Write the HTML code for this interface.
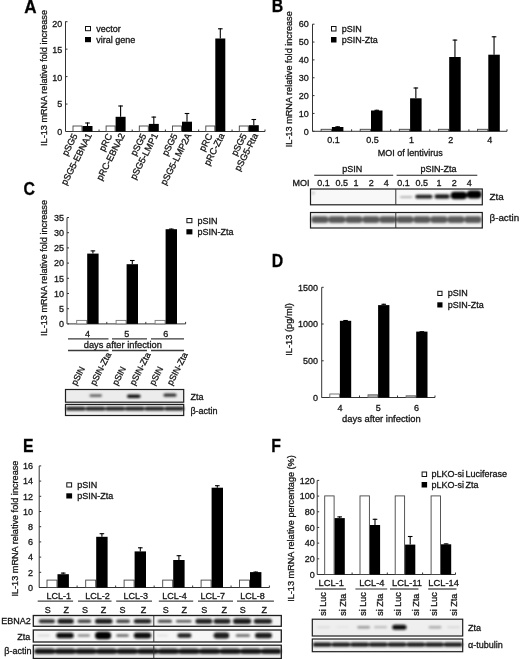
<!DOCTYPE html>
<html><head><meta charset="utf-8"><style>
html,body{margin:0;padding:0;background:#fff;}
body{width:520px;height:659px;overflow:hidden;}
svg{display:block;filter:blur(0.4px);font-family:"Liberation Sans", sans-serif;font-size:9px;fill:#151515;}
text{stroke:#151515;stroke-width:0.3px;}
</style></head><body>
<svg width="520" height="659" viewBox="0 0 520 659">
<defs><filter id="bl10" x="-10%" y="-50%" width="120%" height="200%"><feGaussianBlur stdDeviation="1.0"/></filter><filter id="bl13" x="-10%" y="-50%" width="120%" height="200%"><feGaussianBlur stdDeviation="1.3"/></filter></defs>
<rect width="520" height="659" fill="#fff"/>
<text x="0" y="0" transform="translate(24.30 12.70) scale(0.95 1)" font-size="18" font-weight="bold" fill="#000" stroke="none">A</text>
<line x1="65.50" y1="21.40" x2="65.50" y2="131.50" stroke="#333" stroke-width="1"/>
<line x1="65.50" y1="131.50" x2="67.50" y2="131.50" stroke="#333" stroke-width="1"/>
<text x="62.30" y="134.70" text-anchor="end">0</text>
<line x1="65.50" y1="104.05" x2="67.50" y2="104.05" stroke="#333" stroke-width="1"/>
<text x="62.30" y="107.25" text-anchor="end">5</text>
<line x1="65.50" y1="76.60" x2="67.50" y2="76.60" stroke="#333" stroke-width="1"/>
<text x="62.30" y="80.60" text-anchor="end">10</text>
<line x1="65.50" y1="49.15" x2="67.50" y2="49.15" stroke="#333" stroke-width="1"/>
<text x="62.30" y="53.25" text-anchor="end">15</text>
<line x1="65.50" y1="21.70" x2="67.50" y2="21.70" stroke="#333" stroke-width="1"/>
<text x="62.30" y="26.50" text-anchor="end">20</text>
<text x="47.30" y="78.00" text-anchor="middle" transform="rotate(-90 47.30 78.00)" font-size="9.15">IL-13 mRNA relative fold increase</text>
<line x1="66.00" y1="131.50" x2="265.00" y2="131.50" stroke="#333" stroke-width="1"/>
<line x1="99.05" y1="131.50" x2="99.05" y2="129.50" stroke="#333" stroke-width="1"/>
<line x1="132.20" y1="131.50" x2="132.20" y2="129.50" stroke="#333" stroke-width="1"/>
<line x1="165.40" y1="131.50" x2="165.40" y2="129.50" stroke="#333" stroke-width="1"/>
<line x1="198.65" y1="131.50" x2="198.65" y2="129.50" stroke="#333" stroke-width="1"/>
<line x1="232.05" y1="131.50" x2="232.05" y2="129.50" stroke="#333" stroke-width="1"/>
<line x1="265.00" y1="131.50" x2="265.00" y2="129.50" stroke="#333" stroke-width="1"/>
<rect x="73.00" y="126.00" width="9.00" height="5.50" fill="#fff" stroke="#444" stroke-width="0.9"/>
<rect x="82.50" y="126.00" width="10.00" height="5.50" fill="#000"/>
<line x1="87.50" y1="122.50" x2="87.50" y2="126.00" stroke="#000" stroke-width="1.1"/>
<line x1="85.20" y1="123.00" x2="89.80" y2="123.00" stroke="#000" stroke-width="1.1"/>
<rect x="106.10" y="126.00" width="9.00" height="5.50" fill="#fff" stroke="#444" stroke-width="0.9"/>
<rect x="115.60" y="116.80" width="10.00" height="14.70" fill="#000"/>
<line x1="120.60" y1="105.50" x2="120.60" y2="116.80" stroke="#000" stroke-width="1.1"/>
<line x1="118.30" y1="106.00" x2="122.90" y2="106.00" stroke="#000" stroke-width="1.1"/>
<rect x="139.30" y="126.00" width="9.00" height="5.50" fill="#fff" stroke="#444" stroke-width="0.9"/>
<rect x="148.80" y="123.90" width="10.00" height="7.60" fill="#000"/>
<line x1="153.80" y1="116.60" x2="153.80" y2="123.90" stroke="#000" stroke-width="1.1"/>
<line x1="151.50" y1="117.10" x2="156.10" y2="117.10" stroke="#000" stroke-width="1.1"/>
<rect x="172.50" y="126.00" width="9.00" height="5.50" fill="#fff" stroke="#444" stroke-width="0.9"/>
<rect x="182.00" y="121.70" width="10.00" height="9.80" fill="#000"/>
<line x1="187.00" y1="113.00" x2="187.00" y2="121.70" stroke="#000" stroke-width="1.1"/>
<line x1="184.70" y1="113.50" x2="189.30" y2="113.50" stroke="#000" stroke-width="1.1"/>
<rect x="205.80" y="126.00" width="9.00" height="5.50" fill="#fff" stroke="#444" stroke-width="0.9"/>
<rect x="215.30" y="38.50" width="10.00" height="93.00" fill="#000"/>
<line x1="220.30" y1="28.30" x2="220.30" y2="38.50" stroke="#000" stroke-width="1.1"/>
<line x1="218.00" y1="28.80" x2="222.60" y2="28.80" stroke="#000" stroke-width="1.1"/>
<rect x="239.30" y="126.00" width="9.00" height="5.50" fill="#fff" stroke="#444" stroke-width="0.9"/>
<rect x="248.80" y="125.20" width="10.00" height="6.30" fill="#000"/>
<line x1="253.80" y1="119.00" x2="253.80" y2="125.20" stroke="#000" stroke-width="1.1"/>
<line x1="251.50" y1="119.50" x2="256.10" y2="119.50" stroke="#000" stroke-width="1.1"/>
<text x="77.90" y="135.60" text-anchor="end" transform="rotate(-63 77.90 135.60)" font-size="9.2">pSG5</text>
<text x="92.10" y="135.30" text-anchor="end" transform="rotate(-63 92.10 135.30)" font-size="9.2">pSG5-EBNA1</text>
<text x="112.50" y="135.60" text-anchor="end" transform="rotate(-63 112.50 135.60)" font-size="9.2">pRC</text>
<text x="125.20" y="135.30" text-anchor="end" transform="rotate(-63 125.20 135.30)" font-size="9.2">pRC-EBNA2</text>
<text x="146.50" y="135.60" text-anchor="end" transform="rotate(-63 146.50 135.60)" font-size="9.2">pSG5</text>
<text x="158.40" y="135.30" text-anchor="end" transform="rotate(-63 158.40 135.30)" font-size="9.2">pSG5-LMP1</text>
<text x="177.90" y="135.60" text-anchor="end" transform="rotate(-63 177.90 135.60)" font-size="9.2">pSG5</text>
<text x="191.60" y="135.30" text-anchor="end" transform="rotate(-63 191.60 135.30)" font-size="9.2">pSG5-LMP2A</text>
<text x="212.70" y="135.60" text-anchor="end" transform="rotate(-63 212.70 135.60)" font-size="9.2">pRC</text>
<text x="224.90" y="135.30" text-anchor="end" transform="rotate(-63 224.90 135.30)" font-size="9.2">pRC-Zta</text>
<text x="247.20" y="135.60" text-anchor="end" transform="rotate(-63 247.20 135.60)" font-size="9.2">pSG5</text>
<text x="258.40" y="135.30" text-anchor="end" transform="rotate(-63 258.40 135.30)" font-size="9.2">pSG5-Rta</text>
<rect x="85.50" y="26.50" width="5.00" height="4.20" fill="#fff" stroke="#111" stroke-width="1"/>
<rect x="85.00" y="37.00" width="6.00" height="5.20" fill="#000"/>
<text x="96.20" y="31.50">vector</text>
<text x="96.20" y="42.50">viral gene</text>
<text x="0" y="0" transform="translate(271.70 12.40) scale(0.88 1)" font-size="18" font-weight="bold" fill="#000" stroke="none">B</text>
<line x1="312.50" y1="24.20" x2="312.50" y2="131.30" stroke="#333" stroke-width="1"/>
<line x1="312.50" y1="131.30" x2="314.50" y2="131.30" stroke="#333" stroke-width="1"/>
<text x="308.80" y="134.50" text-anchor="end">0</text>
<line x1="312.50" y1="113.45" x2="314.50" y2="113.45" stroke="#333" stroke-width="1"/>
<text x="308.80" y="116.65" text-anchor="end">10</text>
<line x1="312.50" y1="95.60" x2="314.50" y2="95.60" stroke="#333" stroke-width="1"/>
<text x="308.80" y="98.80" text-anchor="end">20</text>
<line x1="312.50" y1="77.75" x2="314.50" y2="77.75" stroke="#333" stroke-width="1"/>
<text x="308.80" y="80.95" text-anchor="end">30</text>
<line x1="312.50" y1="59.90" x2="314.50" y2="59.90" stroke="#333" stroke-width="1"/>
<text x="308.80" y="63.10" text-anchor="end">40</text>
<line x1="312.50" y1="42.05" x2="314.50" y2="42.05" stroke="#333" stroke-width="1"/>
<text x="308.80" y="45.25" text-anchor="end">50</text>
<line x1="312.50" y1="24.20" x2="314.50" y2="24.20" stroke="#333" stroke-width="1"/>
<text x="308.80" y="27.40" text-anchor="end">60</text>
<text x="292.50" y="79.20" text-anchor="middle" transform="rotate(-90 292.50 79.20)" font-size="9.15">IL-13 mRNA relative fold increase</text>
<line x1="312.50" y1="131.30" x2="507.00" y2="131.30" stroke="#333" stroke-width="1"/>
<line x1="351.60" y1="131.30" x2="351.60" y2="129.30" stroke="#333" stroke-width="1"/>
<line x1="390.70" y1="131.30" x2="390.70" y2="129.30" stroke="#333" stroke-width="1"/>
<line x1="429.80" y1="131.30" x2="429.80" y2="129.30" stroke="#333" stroke-width="1"/>
<line x1="468.90" y1="131.30" x2="468.90" y2="129.30" stroke="#333" stroke-width="1"/>
<line x1="507.00" y1="131.30" x2="507.00" y2="129.30" stroke="#333" stroke-width="1"/>
<rect x="321.10" y="129.30" width="10.30" height="2.00" fill="#ddd" stroke="#444" stroke-width="0.9"/>
<rect x="331.90" y="127.00" width="11.50" height="4.30" fill="#000"/>
<line x1="337.65" y1="126.30" x2="337.65" y2="127.00" stroke="#000" stroke-width="1.1"/>
<line x1="335.35" y1="126.80" x2="339.95" y2="126.80" stroke="#000" stroke-width="1.1"/>
<rect x="360.20" y="129.30" width="10.30" height="2.00" fill="#ddd" stroke="#444" stroke-width="0.9"/>
<rect x="371.00" y="110.50" width="11.50" height="20.80" fill="#000"/>
<line x1="376.75" y1="109.80" x2="376.75" y2="110.50" stroke="#000" stroke-width="1.1"/>
<line x1="374.45" y1="110.30" x2="379.05" y2="110.30" stroke="#000" stroke-width="1.1"/>
<rect x="399.30" y="129.30" width="10.30" height="2.00" fill="#ddd" stroke="#444" stroke-width="0.9"/>
<rect x="410.10" y="98.30" width="11.50" height="33.00" fill="#000"/>
<line x1="415.85" y1="87.50" x2="415.85" y2="98.30" stroke="#000" stroke-width="1.1"/>
<line x1="413.55" y1="88.00" x2="418.15" y2="88.00" stroke="#000" stroke-width="1.1"/>
<rect x="438.40" y="129.30" width="10.30" height="2.00" fill="#ddd" stroke="#444" stroke-width="0.9"/>
<rect x="449.20" y="57.00" width="11.50" height="74.30" fill="#000"/>
<line x1="454.95" y1="39.60" x2="454.95" y2="57.00" stroke="#000" stroke-width="1.1"/>
<line x1="452.65" y1="40.10" x2="457.25" y2="40.10" stroke="#000" stroke-width="1.1"/>
<rect x="477.50" y="129.30" width="10.30" height="2.00" fill="#ddd" stroke="#444" stroke-width="0.9"/>
<rect x="488.30" y="54.70" width="11.50" height="76.60" fill="#000"/>
<line x1="494.05" y1="36.30" x2="494.05" y2="54.70" stroke="#000" stroke-width="1.1"/>
<line x1="491.75" y1="36.80" x2="496.35" y2="36.80" stroke="#000" stroke-width="1.1"/>
<text x="333.40" y="142.60" text-anchor="middle">0.1</text>
<text x="372.50" y="142.60" text-anchor="middle">0.5</text>
<text x="411.60" y="142.60" text-anchor="middle">1</text>
<text x="450.70" y="142.60" text-anchor="middle">2</text>
<text x="489.80" y="142.60" text-anchor="middle">4</text>
<text x="410.30" y="156.00" text-anchor="middle">MOI of lentivirus</text>
<rect x="331.50" y="26.50" width="4.50" height="4.50" fill="#fff" stroke="#111" stroke-width="1"/>
<rect x="331.00" y="37.00" width="5.50" height="5.50" fill="#000"/>
<text x="341.70" y="31.80">pSIN</text>
<text x="341.70" y="42.80">pSIN-Zta</text>
<text x="0" y="0" transform="translate(23.50 195.00) scale(0.88 1)" font-size="18" font-weight="bold" fill="#000" stroke="none">C</text>
<line x1="67.00" y1="217.70" x2="67.00" y2="323.90" stroke="#333" stroke-width="1"/>
<line x1="67.00" y1="323.90" x2="69.00" y2="323.90" stroke="#333" stroke-width="1"/>
<text x="64.00" y="327.10" text-anchor="end">0</text>
<line x1="67.00" y1="308.70" x2="69.00" y2="308.70" stroke="#333" stroke-width="1"/>
<text x="64.00" y="311.90" text-anchor="end">5</text>
<line x1="67.00" y1="293.50" x2="69.00" y2="293.50" stroke="#333" stroke-width="1"/>
<text x="64.00" y="296.70" text-anchor="end">10</text>
<line x1="67.00" y1="278.30" x2="69.00" y2="278.30" stroke="#333" stroke-width="1"/>
<text x="64.00" y="281.50" text-anchor="end">15</text>
<line x1="67.00" y1="263.10" x2="69.00" y2="263.10" stroke="#333" stroke-width="1"/>
<text x="64.00" y="266.30" text-anchor="end">20</text>
<line x1="67.00" y1="247.90" x2="69.00" y2="247.90" stroke="#333" stroke-width="1"/>
<text x="64.00" y="251.10" text-anchor="end">25</text>
<line x1="67.00" y1="232.70" x2="69.00" y2="232.70" stroke="#333" stroke-width="1"/>
<text x="64.00" y="235.90" text-anchor="end">30</text>
<line x1="67.00" y1="217.50" x2="69.00" y2="217.50" stroke="#333" stroke-width="1"/>
<text x="64.00" y="220.70" text-anchor="end">35</text>
<text x="47.40" y="268.00" text-anchor="middle" transform="rotate(-90 47.40 268.00)" font-size="9.15">IL-13 mRNA relative fold increase</text>
<line x1="67.70" y1="323.90" x2="185.60" y2="323.90" stroke="#333" stroke-width="1"/>
<line x1="106.80" y1="323.90" x2="106.80" y2="321.90" stroke="#333" stroke-width="1"/>
<line x1="145.80" y1="323.90" x2="145.80" y2="321.90" stroke="#333" stroke-width="1"/>
<line x1="185.60" y1="323.90" x2="185.60" y2="321.90" stroke="#333" stroke-width="1"/>
<rect x="76.70" y="320.40" width="10.00" height="3.50" fill="#fff" stroke="#777" stroke-width="0.9"/>
<rect x="87.20" y="253.60" width="11.40" height="70.30" fill="#000"/>
<line x1="92.90" y1="250.40" x2="92.90" y2="253.60" stroke="#000" stroke-width="1.1"/>
<line x1="90.60" y1="250.90" x2="95.20" y2="250.90" stroke="#000" stroke-width="1.1"/>
<rect x="116.10" y="320.40" width="10.00" height="3.50" fill="#fff" stroke="#777" stroke-width="0.9"/>
<rect x="126.60" y="264.20" width="11.40" height="59.70" fill="#000"/>
<line x1="132.30" y1="260.00" x2="132.30" y2="264.20" stroke="#000" stroke-width="1.1"/>
<line x1="130.00" y1="260.50" x2="134.60" y2="260.50" stroke="#000" stroke-width="1.1"/>
<rect x="155.10" y="320.40" width="10.00" height="3.50" fill="#fff" stroke="#777" stroke-width="0.9"/>
<rect x="165.60" y="229.20" width="11.40" height="94.70" fill="#000"/>
<line x1="171.30" y1="228.60" x2="171.30" y2="229.20" stroke="#000" stroke-width="1.1"/>
<line x1="169.00" y1="229.10" x2="173.60" y2="229.10" stroke="#000" stroke-width="1.1"/>
<text x="87.40" y="336.80" text-anchor="middle">4</text>
<text x="126.80" y="336.80" text-anchor="middle">5</text>
<text x="165.80" y="336.80" text-anchor="middle">6</text>
<line x1="68.00" y1="338.80" x2="108.50" y2="338.80" stroke="#3a3a3a" stroke-width="1.3"/>
<line x1="68.00" y1="350.50" x2="108.50" y2="350.50" stroke="#3a3a3a" stroke-width="1.3"/>
<line x1="112.00" y1="338.80" x2="147.00" y2="338.80" stroke="#3a3a3a" stroke-width="1.3"/>
<line x1="112.00" y1="350.50" x2="147.00" y2="350.50" stroke="#3a3a3a" stroke-width="1.3"/>
<line x1="151.00" y1="338.80" x2="184.00" y2="338.80" stroke="#3a3a3a" stroke-width="1.3"/>
<line x1="151.00" y1="350.50" x2="184.00" y2="350.50" stroke="#3a3a3a" stroke-width="1.3"/>
<text x="122.80" y="348.30" text-anchor="middle" font-size="9.3">days after infection</text>
<rect x="186.90" y="218.50" width="5.00" height="4.20" fill="#fff" stroke="#111" stroke-width="1"/>
<rect x="186.40" y="229.20" width="6.00" height="5.20" fill="#000"/>
<text x="197.60" y="223.50">pSIN</text>
<text x="197.60" y="234.70">pSIN-Zta</text>
<text x="76.30" y="386.00" transform="rotate(-63 76.30 386.00)" font-size="8.9">pSIN</text>
<text x="95.30" y="386.00" transform="rotate(-63 95.30 386.00)" font-size="8.9">pSIN-Zta</text>
<text x="117.30" y="386.00" transform="rotate(-63 117.30 386.00)" font-size="8.9">pSIN</text>
<text x="134.80" y="386.00" transform="rotate(-63 134.80 386.00)" font-size="8.9">pSIN-Zta</text>
<text x="154.50" y="386.00" transform="rotate(-63 154.50 386.00)" font-size="8.9">pSIN</text>
<text x="171.90" y="386.00" transform="rotate(-63 171.90 386.00)" font-size="8.9">pSIN-Zta</text>
<rect x="65.50" y="389.50" width="118.50" height="12.50" fill="#ececec"/>
<rect x="65.50" y="404.50" width="118.50" height="11.50" fill="#f0f0f0"/>
<g filter="url(#bl10)">
<rect x="89.50" y="394.30" width="12.50" height="2.60" rx="1.30" fill="#666"/>
<rect x="127.00" y="394.40" width="13.50" height="3.60" rx="1.80" fill="#111"/>
<rect x="163.50" y="393.60" width="13.00" height="3.20" rx="1.60" fill="#333"/>
<rect x="65.80" y="406.80" width="19.90" height="3.80" rx="1.90" fill="#1a1a1a"/>
<rect x="85.50" y="406.80" width="19.90" height="3.80" rx="1.90" fill="#1a1a1a"/>
<rect x="105.20" y="406.80" width="19.90" height="3.80" rx="1.90" fill="#1a1a1a"/>
<rect x="124.90" y="406.80" width="19.90" height="3.80" rx="1.90" fill="#1a1a1a"/>
<rect x="144.60" y="406.80" width="19.90" height="3.80" rx="1.90" fill="#1a1a1a"/>
<rect x="164.30" y="406.80" width="19.90" height="3.80" rx="1.90" fill="#1a1a1a"/>
</g>
<rect x="65.50" y="389.50" width="118.20" height="12.70" fill="none" stroke="#1e1e1e" stroke-width="1.2"/>
<rect x="65.50" y="404.40" width="118.20" height="11.10" fill="none" stroke="#1e1e1e" stroke-width="1.2"/>
<text x="190.40" y="399.60">Zta</text>
<text x="190.40" y="413.60">β-actin</text>
<text x="0" y="0" transform="translate(271.80 267.30) scale(0.88 1)" font-size="18" font-weight="bold" fill="#000" stroke="none">D</text>
<line x1="321.70" y1="287.30" x2="321.70" y2="397.50" stroke="#333" stroke-width="1"/>
<line x1="321.70" y1="397.50" x2="323.70" y2="397.50" stroke="#333" stroke-width="1"/>
<text x="318.00" y="400.70" text-anchor="end">0</text>
<line x1="321.70" y1="360.77" x2="323.70" y2="360.77" stroke="#333" stroke-width="1"/>
<text x="318.00" y="363.97" text-anchor="end">500</text>
<line x1="321.70" y1="324.03" x2="323.70" y2="324.03" stroke="#333" stroke-width="1"/>
<text x="318.00" y="327.23" text-anchor="end">1000</text>
<line x1="321.70" y1="287.30" x2="323.70" y2="287.30" stroke="#333" stroke-width="1"/>
<text x="318.00" y="290.50" text-anchor="end">1500</text>
<text x="291.60" y="329.50" text-anchor="middle" transform="rotate(-90 291.60 329.50)" font-size="9.3">IL-13 (pg/ml)</text>
<line x1="321.70" y1="397.50" x2="435.00" y2="397.50" stroke="#333" stroke-width="1"/>
<line x1="359.50" y1="397.50" x2="359.50" y2="395.50" stroke="#333" stroke-width="1"/>
<line x1="397.50" y1="397.50" x2="397.50" y2="395.50" stroke="#333" stroke-width="1"/>
<line x1="435.00" y1="397.50" x2="435.00" y2="395.50" stroke="#333" stroke-width="1"/>
<rect x="329.80" y="394.00" width="9.60" height="3.50" fill="#fff" stroke="#666" stroke-width="0.9"/>
<rect x="339.90" y="320.80" width="11.30" height="76.70" fill="#000"/>
<line x1="345.55" y1="320.00" x2="345.55" y2="320.80" stroke="#000" stroke-width="1.1"/>
<line x1="343.25" y1="320.50" x2="347.85" y2="320.50" stroke="#000" stroke-width="1.1"/>
<rect x="368.00" y="394.80" width="9.60" height="2.70" fill="#aaa" stroke="#666" stroke-width="0.9"/>
<rect x="378.10" y="305.10" width="11.30" height="92.40" fill="#000"/>
<line x1="383.75" y1="303.80" x2="383.75" y2="305.10" stroke="#000" stroke-width="1.1"/>
<line x1="381.45" y1="304.30" x2="386.05" y2="304.30" stroke="#000" stroke-width="1.1"/>
<rect x="406.10" y="395.80" width="9.60" height="1.70" fill="#aaa" stroke="#666" stroke-width="0.9"/>
<rect x="416.20" y="331.60" width="11.30" height="65.90" fill="#000"/>
<line x1="421.85" y1="331.20" x2="421.85" y2="331.60" stroke="#000" stroke-width="1.1"/>
<line x1="419.55" y1="331.70" x2="424.15" y2="331.70" stroke="#000" stroke-width="1.1"/>
<text x="340.10" y="410.60" text-anchor="middle">4</text>
<text x="378.30" y="410.60" text-anchor="middle">5</text>
<text x="416.40" y="410.60" text-anchor="middle">6</text>
<text x="381.40" y="421.80" text-anchor="middle" font-size="9.37">days after infection</text>
<rect x="437.80" y="291.30" width="4.20" height="4.20" fill="#fff" stroke="#111" stroke-width="1"/>
<rect x="437.30" y="302.30" width="5.20" height="5.20" fill="#000"/>
<text x="447.70" y="296.30">pSIN</text>
<text x="447.70" y="307.80">pSIN-Zta</text>
<text x="0" y="0" transform="translate(22.90 451.90) scale(0.88 1)" font-size="18" font-weight="bold" fill="#000" stroke="none">E</text>
<line x1="39.20" y1="465.90" x2="39.20" y2="587.50" stroke="#333" stroke-width="1"/>
<line x1="39.20" y1="587.50" x2="41.20" y2="587.50" stroke="#333" stroke-width="1"/>
<text x="33.00" y="590.70" text-anchor="end">0</text>
<line x1="39.20" y1="572.30" x2="41.20" y2="572.30" stroke="#333" stroke-width="1"/>
<text x="33.00" y="575.50" text-anchor="end">2</text>
<line x1="39.20" y1="557.10" x2="41.20" y2="557.10" stroke="#333" stroke-width="1"/>
<text x="33.00" y="560.30" text-anchor="end">4</text>
<line x1="39.20" y1="541.90" x2="41.20" y2="541.90" stroke="#333" stroke-width="1"/>
<text x="33.00" y="545.10" text-anchor="end">6</text>
<line x1="39.20" y1="526.70" x2="41.20" y2="526.70" stroke="#333" stroke-width="1"/>
<text x="33.00" y="529.90" text-anchor="end">8</text>
<line x1="39.20" y1="511.50" x2="41.20" y2="511.50" stroke="#333" stroke-width="1"/>
<text x="33.00" y="514.70" text-anchor="end">10</text>
<line x1="39.20" y1="496.30" x2="41.20" y2="496.30" stroke="#333" stroke-width="1"/>
<text x="33.00" y="499.50" text-anchor="end">12</text>
<line x1="39.20" y1="481.10" x2="41.20" y2="481.10" stroke="#333" stroke-width="1"/>
<text x="33.00" y="484.30" text-anchor="end">14</text>
<line x1="39.20" y1="465.90" x2="41.20" y2="465.90" stroke="#333" stroke-width="1"/>
<text x="33.00" y="469.10" text-anchor="end">16</text>
<text x="17.60" y="528.60" text-anchor="middle" transform="rotate(-90 17.60 528.60)" font-size="9.15">IL-13 mRNA relative fold increase</text>
<line x1="39.20" y1="587.50" x2="269.40" y2="587.50" stroke="#333" stroke-width="1"/>
<line x1="77.10" y1="587.50" x2="77.10" y2="585.50" stroke="#333" stroke-width="1"/>
<line x1="115.65" y1="587.50" x2="115.65" y2="585.50" stroke="#333" stroke-width="1"/>
<line x1="154.15" y1="587.50" x2="154.15" y2="585.50" stroke="#333" stroke-width="1"/>
<line x1="192.65" y1="587.50" x2="192.65" y2="585.50" stroke="#333" stroke-width="1"/>
<line x1="231.05" y1="587.50" x2="231.05" y2="585.50" stroke="#333" stroke-width="1"/>
<line x1="269.40" y1="587.50" x2="269.40" y2="585.50" stroke="#333" stroke-width="1"/>
<rect x="47.00" y="580.10" width="10.00" height="7.40" fill="#fff" stroke="#444" stroke-width="0.9"/>
<rect x="57.50" y="574.20" width="11.40" height="13.30" fill="#000"/>
<line x1="63.20" y1="572.60" x2="63.20" y2="574.20" stroke="#000" stroke-width="1.1"/>
<line x1="60.90" y1="573.10" x2="65.50" y2="573.10" stroke="#000" stroke-width="1.1"/>
<rect x="85.70" y="580.10" width="10.00" height="7.40" fill="#fff" stroke="#444" stroke-width="0.9"/>
<rect x="96.20" y="536.80" width="11.40" height="50.70" fill="#000"/>
<line x1="101.90" y1="533.20" x2="101.90" y2="536.80" stroke="#000" stroke-width="1.1"/>
<line x1="99.60" y1="533.70" x2="104.20" y2="533.70" stroke="#000" stroke-width="1.1"/>
<rect x="124.10" y="580.10" width="10.00" height="7.40" fill="#fff" stroke="#444" stroke-width="0.9"/>
<rect x="134.60" y="551.40" width="11.40" height="36.10" fill="#000"/>
<line x1="140.30" y1="547.30" x2="140.30" y2="551.40" stroke="#000" stroke-width="1.1"/>
<line x1="138.00" y1="547.80" x2="142.60" y2="547.80" stroke="#000" stroke-width="1.1"/>
<rect x="162.70" y="580.10" width="10.00" height="7.40" fill="#fff" stroke="#444" stroke-width="0.9"/>
<rect x="173.20" y="560.00" width="11.40" height="27.50" fill="#000"/>
<line x1="178.90" y1="555.20" x2="178.90" y2="560.00" stroke="#000" stroke-width="1.1"/>
<line x1="176.60" y1="555.70" x2="181.20" y2="555.70" stroke="#000" stroke-width="1.1"/>
<rect x="201.10" y="580.10" width="10.00" height="7.40" fill="#fff" stroke="#444" stroke-width="0.9"/>
<rect x="211.60" y="487.70" width="11.40" height="99.80" fill="#000"/>
<line x1="217.30" y1="485.20" x2="217.30" y2="487.70" stroke="#000" stroke-width="1.1"/>
<line x1="215.00" y1="485.70" x2="219.60" y2="485.70" stroke="#000" stroke-width="1.1"/>
<rect x="239.50" y="580.10" width="10.00" height="7.40" fill="#fff" stroke="#444" stroke-width="0.9"/>
<rect x="250.00" y="572.10" width="11.40" height="15.40" fill="#000"/>
<line x1="255.70" y1="571.60" x2="255.70" y2="572.10" stroke="#000" stroke-width="1.1"/>
<line x1="253.40" y1="572.10" x2="258.00" y2="572.10" stroke="#000" stroke-width="1.1"/>
<text x="58.70" y="598.60" text-anchor="middle">LCL-1</text>
<text x="97.40" y="598.60" text-anchor="middle">LCL-2</text>
<text x="135.80" y="598.60" text-anchor="middle">LCL-3</text>
<text x="174.40" y="598.60" text-anchor="middle">LCL-4</text>
<text x="212.80" y="598.60" text-anchor="middle">LCL-7</text>
<text x="252.50" y="598.60" text-anchor="middle">LCL-8</text>
<line x1="37.70" y1="601.20" x2="73.10" y2="601.20" stroke="#444" stroke-width="1.2"/>
<line x1="78.00" y1="601.20" x2="111.50" y2="601.20" stroke="#444" stroke-width="1.2"/>
<line x1="116.20" y1="601.20" x2="152.00" y2="601.20" stroke="#444" stroke-width="1.2"/>
<line x1="158.80" y1="601.20" x2="193.20" y2="601.20" stroke="#444" stroke-width="1.2"/>
<line x1="198.00" y1="601.20" x2="233.00" y2="601.20" stroke="#444" stroke-width="1.2"/>
<line x1="237.00" y1="601.20" x2="273.90" y2="601.20" stroke="#444" stroke-width="1.2"/>
<text x="47.70" y="613.20" text-anchor="middle">S</text>
<text x="66.20" y="613.20" text-anchor="middle">Z</text>
<text x="85.00" y="613.20" text-anchor="middle">S</text>
<text x="103.50" y="613.20" text-anchor="middle">Z</text>
<text x="122.60" y="613.20" text-anchor="middle">S</text>
<text x="143.40" y="613.20" text-anchor="middle">Z</text>
<text x="165.80" y="613.20" text-anchor="middle">S</text>
<text x="184.20" y="613.20" text-anchor="middle">Z</text>
<text x="204.20" y="613.20" text-anchor="middle">S</text>
<text x="224.20" y="613.20" text-anchor="middle">Z</text>
<text x="242.80" y="613.20" text-anchor="middle">S</text>
<text x="264.20" y="613.20" text-anchor="middle">Z</text>
<rect x="33.30" y="615.50" width="248.00" height="10.80" fill="#f4f4f4"/>
<rect x="33.30" y="630.00" width="248.00" height="12.00" fill="#f6f6f6"/>
<rect x="33.30" y="645.20" width="248.00" height="13.30" fill="#f0f0f0"/>
<g filter="url(#bl10)">
<rect x="38.80" y="619.20" width="16.20" height="4.00" rx="2.00" fill="#333"/>
<rect x="57.50" y="618.70" width="16.30" height="5.00" rx="2.50" fill="#1c1c1c"/>
<rect x="77.50" y="619.45" width="13.70" height="3.50" rx="1.75" fill="#444"/>
<rect x="95.00" y="618.70" width="17.50" height="5.00" rx="2.50" fill="#1c1c1c"/>
<rect x="116.20" y="619.45" width="13.80" height="3.50" rx="1.75" fill="#444"/>
<rect x="133.80" y="618.95" width="17.40" height="4.50" rx="2.25" fill="#222"/>
<rect x="157.80" y="619.70" width="14.20" height="3.00" rx="1.50" fill="#444"/>
<rect x="176.00" y="619.90" width="15.50" height="2.60" rx="1.30" fill="#555"/>
<rect x="195.40" y="618.70" width="16.90" height="5.00" rx="2.50" fill="#222"/>
<rect x="213.60" y="618.70" width="16.90" height="5.00" rx="2.50" fill="#222"/>
<rect x="233.00" y="618.45" width="18.20" height="5.50" rx="2.75" fill="#1c1c1c"/>
<rect x="253.80" y="618.70" width="18.20" height="5.00" rx="2.50" fill="#222"/>
<rect x="37.50" y="634.60" width="12.50" height="2.00" rx="1.00" fill="#d8d8d8"/>
<rect x="56.20" y="632.85" width="17.60" height="5.50" rx="2.75" fill="#111"/>
<rect x="77.50" y="634.35" width="12.50" height="2.50" rx="1.25" fill="#888"/>
<rect x="95.00" y="631.85" width="16.20" height="7.50" rx="3.75" fill="#000"/>
<rect x="116.20" y="634.10" width="12.60" height="3.00" rx="1.50" fill="#777"/>
<rect x="133.80" y="632.60" width="17.40" height="6.00" rx="3.00" fill="#111"/>
<rect x="157.00" y="634.60" width="11.00" height="2.00" rx="1.00" fill="#e2e2e2"/>
<rect x="177.30" y="633.35" width="14.20" height="4.50" rx="2.25" fill="#222"/>
<rect x="213.60" y="632.60" width="15.60" height="6.00" rx="3.00" fill="#1a1a1a"/>
<rect x="235.70" y="634.10" width="14.30" height="3.00" rx="1.50" fill="#777"/>
<rect x="255.00" y="632.85" width="17.00" height="5.50" rx="2.75" fill="#1a1a1a"/>
<rect x="34.50" y="649.20" width="246.00" height="4.20" rx="1.00" fill="#202020"/>
<rect x="35.00" y="648.50" width="19.60" height="5.60" rx="2.50" fill="#151515"/>
<rect x="55.60" y="648.50" width="19.60" height="5.60" rx="2.50" fill="#151515"/>
<rect x="76.20" y="648.50" width="19.60" height="5.60" rx="2.50" fill="#151515"/>
<rect x="96.80" y="648.50" width="19.60" height="5.60" rx="2.50" fill="#151515"/>
<rect x="117.40" y="648.50" width="19.60" height="5.60" rx="2.50" fill="#151515"/>
<rect x="138.00" y="648.50" width="19.60" height="5.60" rx="2.50" fill="#151515"/>
<rect x="158.60" y="648.50" width="19.60" height="5.60" rx="2.50" fill="#151515"/>
<rect x="179.20" y="648.50" width="19.60" height="5.60" rx="2.50" fill="#151515"/>
<rect x="199.80" y="648.50" width="19.60" height="5.60" rx="2.50" fill="#151515"/>
<rect x="220.40" y="648.50" width="19.60" height="5.60" rx="2.50" fill="#151515"/>
<rect x="241.00" y="648.50" width="19.60" height="5.60" rx="2.50" fill="#151515"/>
<rect x="261.60" y="648.50" width="19.60" height="5.60" rx="2.50" fill="#151515"/>
</g>
<rect x="33.30" y="615.50" width="248.00" height="10.80" fill="none" stroke="#1e1e1e" stroke-width="1.3"/>
<line x1="153.80" y1="615.50" x2="153.80" y2="626.30" stroke="#333" stroke-width="1"/>
<rect x="33.30" y="630.00" width="248.00" height="12.00" fill="none" stroke="#1e1e1e" stroke-width="1.3"/>
<line x1="153.80" y1="630.00" x2="153.80" y2="642.00" stroke="#333" stroke-width="1"/>
<rect x="33.30" y="645.20" width="248.00" height="13.30" fill="none" stroke="#1e1e1e" stroke-width="1.3"/>
<line x1="153.80" y1="645.20" x2="153.80" y2="658.50" stroke="#333" stroke-width="1"/>
<text x="30.80" y="623.60" text-anchor="end">EBNA2</text>
<rect x="66.80" y="482.80" width="4.80" height="4.20" fill="#fff" stroke="#111" stroke-width="1"/>
<rect x="66.30" y="493.30" width="5.80" height="5.20" fill="#000"/>
<text x="77.30" y="487.80">pSIN</text>
<text x="77.30" y="498.80">pSIN-Zta</text>
<text x="30.30" y="639.60" text-anchor="end">Zta</text>
<text x="31.50" y="653.50" text-anchor="end">β-actin</text>
<text x="0" y="0" transform="translate(271.20 451.90) scale(0.88 1)" font-size="18" font-weight="bold" fill="#000" stroke="none">F</text>
<line x1="317.20" y1="480.40" x2="317.20" y2="574.50" stroke="#333" stroke-width="1"/>
<line x1="317.20" y1="574.50" x2="319.20" y2="574.50" stroke="#333" stroke-width="1"/>
<text x="314.80" y="577.70" text-anchor="end">0</text>
<line x1="317.20" y1="558.82" x2="319.20" y2="558.82" stroke="#333" stroke-width="1"/>
<text x="314.80" y="562.02" text-anchor="end">20</text>
<line x1="317.20" y1="543.13" x2="319.20" y2="543.13" stroke="#333" stroke-width="1"/>
<text x="314.80" y="546.33" text-anchor="end">40</text>
<line x1="317.20" y1="527.45" x2="319.20" y2="527.45" stroke="#333" stroke-width="1"/>
<text x="314.80" y="530.65" text-anchor="end">60</text>
<line x1="317.20" y1="511.77" x2="319.20" y2="511.77" stroke="#333" stroke-width="1"/>
<text x="314.80" y="514.97" text-anchor="end">80</text>
<line x1="317.20" y1="496.08" x2="319.20" y2="496.08" stroke="#333" stroke-width="1"/>
<text x="314.80" y="499.28" text-anchor="end">100</text>
<line x1="317.20" y1="480.40" x2="319.20" y2="480.40" stroke="#333" stroke-width="1"/>
<text x="314.80" y="483.60" text-anchor="end">120</text>
<text x="294.00" y="528.50" text-anchor="middle" transform="rotate(-90 294.00 528.50)" font-size="9.15">IL-13 mRNA relative percentage (%)</text>
<line x1="317.20" y1="574.50" x2="455.50" y2="574.50" stroke="#333" stroke-width="1"/>
<line x1="352.10" y1="574.50" x2="352.10" y2="572.50" stroke="#333" stroke-width="1"/>
<line x1="387.30" y1="574.50" x2="387.30" y2="572.50" stroke="#333" stroke-width="1"/>
<line x1="422.60" y1="574.50" x2="422.60" y2="572.50" stroke="#333" stroke-width="1"/>
<line x1="455.50" y1="574.50" x2="455.50" y2="572.50" stroke="#333" stroke-width="1"/>
<rect x="324.70" y="495.90" width="9.40" height="78.60" fill="#fff" stroke="#444" stroke-width="0.9"/>
<rect x="334.60" y="518.10" width="10.20" height="56.40" fill="#000"/>
<line x1="339.70" y1="516.40" x2="339.70" y2="518.10" stroke="#000" stroke-width="1.1"/>
<line x1="337.40" y1="516.90" x2="342.00" y2="516.90" stroke="#000" stroke-width="1.1"/>
<rect x="360.00" y="495.90" width="9.40" height="78.60" fill="#fff" stroke="#444" stroke-width="0.9"/>
<rect x="369.90" y="525.00" width="10.20" height="49.50" fill="#000"/>
<line x1="375.00" y1="518.80" x2="375.00" y2="525.00" stroke="#000" stroke-width="1.1"/>
<line x1="372.70" y1="519.30" x2="377.30" y2="519.30" stroke="#000" stroke-width="1.1"/>
<rect x="395.20" y="495.90" width="9.40" height="78.60" fill="#fff" stroke="#444" stroke-width="0.9"/>
<rect x="405.10" y="544.60" width="10.20" height="29.90" fill="#000"/>
<line x1="410.20" y1="536.00" x2="410.20" y2="544.60" stroke="#000" stroke-width="1.1"/>
<line x1="407.90" y1="536.50" x2="412.50" y2="536.50" stroke="#000" stroke-width="1.1"/>
<rect x="431.10" y="495.90" width="9.40" height="78.60" fill="#fff" stroke="#444" stroke-width="0.9"/>
<rect x="441.00" y="544.30" width="10.20" height="30.20" fill="#000"/>
<line x1="446.10" y1="543.40" x2="446.10" y2="544.30" stroke="#000" stroke-width="1.1"/>
<line x1="443.80" y1="543.90" x2="448.40" y2="543.90" stroke="#000" stroke-width="1.1"/>
<text x="331.20" y="586.00" text-anchor="middle" font-size="9.3">LCL-1</text>
<text x="371.80" y="586.00" text-anchor="middle" font-size="9.3">LCL-4</text>
<text x="407.00" y="586.00" text-anchor="middle" font-size="9.3">LCL-11</text>
<text x="443.60" y="586.00" text-anchor="middle" font-size="9.3">LCL-14</text>
<line x1="315.00" y1="589.00" x2="346.00" y2="589.00" stroke="#333" stroke-width="1.2"/>
<line x1="355.40" y1="589.00" x2="387.20" y2="589.00" stroke="#333" stroke-width="1.2"/>
<line x1="390.00" y1="589.00" x2="418.50" y2="589.00" stroke="#333" stroke-width="1.2"/>
<line x1="428.20" y1="589.00" x2="456.50" y2="589.00" stroke="#333" stroke-width="1.2"/>
<text x="326.20" y="615.80" transform="rotate(-90 326.20 615.80)">si Luc</text>
<text x="345.90" y="615.80" transform="rotate(-90 345.90 615.80)">si Zta</text>
<text x="366.00" y="615.80" transform="rotate(-90 366.00 615.80)">si Luc</text>
<text x="383.50" y="615.80" transform="rotate(-90 383.50 615.80)">si Zta</text>
<text x="401.20" y="615.80" transform="rotate(-90 401.20 615.80)">si Luc</text>
<text x="418.60" y="615.80" transform="rotate(-90 418.60 615.80)">si Zta</text>
<text x="437.40" y="615.80" transform="rotate(-90 437.40 615.80)">si Luc</text>
<text x="457.40" y="615.80" transform="rotate(-90 457.40 615.80)">si Zta</text>
<rect x="312.30" y="619.20" width="150.40" height="16.80" fill="#efefef"/>
<rect x="312.30" y="639.00" width="150.40" height="12.70" fill="#f2f2f2"/>
<g filter="url(#bl10)">
<rect x="317.00" y="626.20" width="13.00" height="2.00" rx="1.00" fill="#dcdcdc"/>
<rect x="336.00" y="626.30" width="13.00" height="1.80" rx="0.90" fill="#e4e4e4"/>
<rect x="357.30" y="625.90" width="12.70" height="2.60" rx="1.30" fill="#999"/>
<rect x="374.00" y="626.10" width="13.00" height="2.20" rx="1.10" fill="#bbb"/>
<rect x="392.20" y="624.70" width="14.30" height="5.00" rx="2.50" fill="#111"/>
<rect x="428.70" y="626.00" width="12.70" height="2.40" rx="1.20" fill="#aaa"/>
<rect x="447.00" y="626.20" width="13.00" height="2.00" rx="1.00" fill="#d8d8d8"/>
<rect x="312.80" y="642.45" width="18.90" height="4.30" rx="2.00" fill="#1c1c1c"/>
<rect x="331.50" y="642.45" width="18.90" height="4.30" rx="2.00" fill="#1c1c1c"/>
<rect x="350.20" y="642.45" width="18.90" height="4.30" rx="2.00" fill="#1c1c1c"/>
<rect x="368.90" y="642.45" width="18.90" height="4.30" rx="2.00" fill="#1c1c1c"/>
<rect x="387.60" y="642.45" width="18.90" height="4.30" rx="2.00" fill="#1c1c1c"/>
<rect x="406.30" y="642.45" width="18.90" height="4.30" rx="2.00" fill="#1c1c1c"/>
<rect x="425.00" y="642.45" width="18.90" height="4.30" rx="2.00" fill="#1c1c1c"/>
<rect x="443.70" y="642.45" width="18.90" height="4.30" rx="2.00" fill="#1c1c1c"/>
</g>
<rect x="312.30" y="619.20" width="150.40" height="16.80" fill="none" stroke="#1e1e1e" stroke-width="1.2"/>
<rect x="312.30" y="639.00" width="150.40" height="12.70" fill="none" stroke="#1e1e1e" stroke-width="1.2"/>
<rect x="422.10" y="472.00" width="4.50" height="4.50" fill="#fff" stroke="#111" stroke-width="1"/>
<rect x="421.60" y="482.00" width="5.50" height="5.50" fill="#000"/>
<text x="431.40" y="477.30">pLKO-si<tspan dx="1.6">Luciferase</tspan></text>
<text x="431.40" y="487.80">pLKO-si<tspan dx="1.6">Zta</tspan></text>
<text x="468.00" y="631.00">Zta</text>
<text x="468.00" y="648.20">α-tubulin</text>
<text x="352.20" y="171.60" text-anchor="middle">pSIN</text>
<text x="438.60" y="172.00" text-anchor="middle">pSIN-Zta</text>
<line x1="314.20" y1="175.30" x2="393.20" y2="175.30" stroke="#222" stroke-width="1.1"/>
<line x1="396.60" y1="175.30" x2="477.30" y2="175.30" stroke="#222" stroke-width="1.1"/>
<text x="292.60" y="186.00">MOI</text>
<text x="323.50" y="186.00" text-anchor="middle">0.1</text>
<text x="341.70" y="186.00" text-anchor="middle">0.5</text>
<text x="356.00" y="186.00" text-anchor="middle">1</text>
<text x="371.30" y="186.00" text-anchor="middle">2</text>
<text x="386.30" y="186.00" text-anchor="middle">4</text>
<text x="403.50" y="186.00" text-anchor="middle">0.1</text>
<text x="421.80" y="186.00" text-anchor="middle">0.5</text>
<text x="439.00" y="186.00" text-anchor="middle">1</text>
<text x="454.30" y="186.00" text-anchor="middle">2</text>
<text x="469.20" y="186.00" text-anchor="middle">4</text>
<rect x="310.50" y="189.00" width="171.80" height="15.80" fill="#f8f8f8"/>
<rect x="310.50" y="212.50" width="171.80" height="15.50" fill="#f2f2f2"/>
<g filter="url(#bl13)">
<rect x="311.50" y="191.50" width="3.50" height="3.00" rx="1.50" fill="#ccc"/>
<rect x="400.00" y="196.20" width="12.30" height="1.80" rx="0.90" fill="#aaa"/>
<rect x="415.30" y="194.80" width="17.20" height="3.80" rx="1.90" fill="#1c1c1c"/>
<rect x="434.50" y="194.20" width="15.20" height="4.60" rx="2.30" fill="#1c1c1c"/>
<rect x="450.70" y="191.75" width="16.30" height="7.50" rx="3.75" fill="#000"/>
<rect x="466.80" y="190.60" width="14.70" height="8.00" rx="4.00" fill="#000"/>
</g>
<g filter="url(#bl10)">
<rect x="311.30" y="216.30" width="17.20" height="6.60" rx="3.00" fill="#585858"/>
<rect x="328.30" y="216.30" width="17.20" height="6.60" rx="3.00" fill="#585858"/>
<rect x="345.30" y="216.30" width="17.20" height="6.60" rx="3.00" fill="#585858"/>
<rect x="362.30" y="216.30" width="17.20" height="6.60" rx="3.00" fill="#585858"/>
<rect x="379.30" y="216.30" width="17.20" height="6.60" rx="3.00" fill="#585858"/>
<rect x="396.30" y="216.30" width="17.20" height="6.60" rx="3.00" fill="#585858"/>
<rect x="413.30" y="216.30" width="17.20" height="6.60" rx="3.00" fill="#585858"/>
<rect x="430.30" y="216.30" width="17.20" height="6.60" rx="3.00" fill="#585858"/>
<rect x="447.30" y="216.30" width="17.20" height="6.60" rx="3.00" fill="#585858"/>
<rect x="464.30" y="216.30" width="17.20" height="6.60" rx="3.00" fill="#585858"/>
</g>
<rect x="310.50" y="189.00" width="171.80" height="15.80" fill="none" stroke="#1e1e1e" stroke-width="1.2"/>
<line x1="395.80" y1="189.00" x2="395.80" y2="204.80" stroke="#333" stroke-width="1"/>
<rect x="310.50" y="212.50" width="171.80" height="15.50" fill="none" stroke="#1e1e1e" stroke-width="1.2"/>
<line x1="395.80" y1="212.50" x2="395.80" y2="228.00" stroke="#333" stroke-width="1"/>
<text x="489.50" y="200.40" font-size="9.8">Zta</text>
<text x="489.50" y="220.80" font-size="9.8">β-actin</text>
</svg></body></html>
